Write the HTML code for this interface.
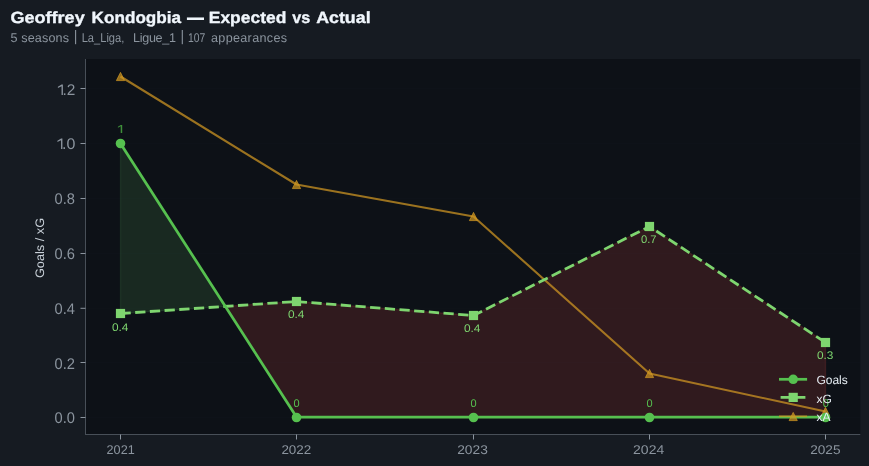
<!DOCTYPE html>
<html><head><meta charset="utf-8"><title>chart</title>
<style>
html,body{margin:0;padding:0;background:#161b22;}
body{width:869px;height:466px;overflow:hidden;}
svg{display:block;font-family:"Liberation Sans",sans-serif;text-rendering:geometricPrecision;will-change:transform;}
</style></head><body>
<svg width="869" height="466" viewBox="0 0 869 466">
<rect width="869" height="466" fill="#161b22"/>
<rect x="85.5" y="59.0" width="774.8" height="375.5" fill="#0d1117"/>
<line x1="85.5" x2="860.3" y1="88.5" y2="88.5" stroke="#1b2029" stroke-width="1" opacity="0.13"/>
<line x1="85.5" x2="860.3" y1="143.5" y2="143.5" stroke="#1b2029" stroke-width="1" opacity="0.13"/>
<line x1="85.5" x2="860.3" y1="198.5" y2="198.5" stroke="#1b2029" stroke-width="1" opacity="0.13"/>
<line x1="85.5" x2="860.3" y1="253.5" y2="253.5" stroke="#1b2029" stroke-width="1" opacity="0.13"/>
<line x1="85.5" x2="860.3" y1="308.3" y2="308.3" stroke="#1b2029" stroke-width="1" opacity="0.13"/>
<line x1="85.5" x2="860.3" y1="362.5" y2="362.5" stroke="#1b2029" stroke-width="1" opacity="0.13"/>
<line x1="85.5" x2="860.3" y1="417.5" y2="417.5" stroke="#1b2029" stroke-width="1" opacity="0.13"/>
<polygon points="120.5,143.5 225.1,306.4 120.5,313.5" fill="#5cb85c" fill-opacity="0.15" stroke="#5cb85c" stroke-opacity="0.13" stroke-width="1.4" stroke-linejoin="round"/>
<polygon points="225.1,306.4 296.5,301.5 473.5,315.5 649.5,226.5 825.5,342.5 825.5,417.5 649.5,417.5 473.5,417.5 296.5,417.5" fill="#f85149" fill-opacity="0.15" stroke="#f85149" stroke-opacity="0.14" stroke-width="1.4" stroke-linejoin="round"/>
<polyline points="120.5,76.5 296.5,184.5 473.5,216.5 649.5,373.5 825.5,411.5" fill="none" stroke="#d29922" stroke-opacity="0.72" stroke-width="2.1" stroke-linejoin="round"/>
<polygon points="116.4,80.6 124.6,80.6 120.5,72.4" fill="#d29922" fill-opacity="0.7" stroke="#d29922" stroke-opacity="0.7" stroke-width="1" stroke-linejoin="miter"/>
<polygon points="292.4,188.6 300.6,188.6 296.5,180.4" fill="#d29922" fill-opacity="0.7" stroke="#d29922" stroke-opacity="0.7" stroke-width="1" stroke-linejoin="miter"/>
<polygon points="469.4,220.6 477.6,220.6 473.5,212.4" fill="#d29922" fill-opacity="0.7" stroke="#d29922" stroke-opacity="0.7" stroke-width="1" stroke-linejoin="miter"/>
<polygon points="645.4,377.6 653.6,377.6 649.5,369.4" fill="#d29922" fill-opacity="0.7" stroke="#d29922" stroke-opacity="0.7" stroke-width="1" stroke-linejoin="miter"/>
<polygon points="821.4,415.6 829.6,415.6 825.5,407.4" fill="#d29922" fill-opacity="0.7" stroke="#d29922" stroke-opacity="0.7" stroke-width="1" stroke-linejoin="miter"/>
<polyline points="120.5,313.5 296.5,301.5 473.5,315.5 649.5,226.5 825.5,342.5" fill="none" stroke="#7ed56f" stroke-width="2.78" stroke-dasharray="10.28 4.44" stroke-linejoin="round"/>
<rect x="115.9" y="308.9" width="9.2" height="9.2" fill="#7ed56f"/>
<rect x="291.9" y="296.9" width="9.2" height="9.2" fill="#7ed56f"/>
<rect x="468.9" y="310.9" width="9.2" height="9.2" fill="#7ed56f"/>
<rect x="644.9" y="221.9" width="9.2" height="9.2" fill="#7ed56f"/>
<rect x="820.9" y="337.9" width="9.2" height="9.2" fill="#7ed56f"/>
<polyline points="120.5,143.5 296.5,417.0 473.5,417.0 649.5,417.0 825.5,417.0" fill="none" stroke="#56c04f" stroke-width="2.75" stroke-linejoin="round"/>
<circle cx="120.5" cy="143.5" r="4.8" fill="#56c04f"/>
<circle cx="296.5" cy="417.5" r="4.8" fill="#56c04f"/>
<circle cx="473.5" cy="417.5" r="4.8" fill="#56c04f"/>
<circle cx="649.5" cy="417.5" r="4.8" fill="#56c04f"/>
<circle cx="825.5" cy="417.5" r="4.8" fill="#56c04f"/>
<line x1="85.5" x2="85.5" y1="59.0" y2="435.0" stroke="#484f58" stroke-width="1"/>
<line x1="85.0" x2="860.3" y1="434.5" y2="434.5" stroke="#484f58" stroke-width="1"/>
<line x1="80.5" x2="85.5" y1="88.5" y2="88.5" stroke="#8b949e" stroke-width="1"/>
<path d="M61.55,84.40 L62.90,84.40 L62.90,95.00 L61.55,95.00 L61.55,86.20 L57.90,88.00 L57.90,86.63 Z" fill="#8b949e"/>
<text x="62.6" y="95" font-size="15.4" fill="#8b949e" textLength="12.84" lengthAdjust="spacingAndGlyphs">.2</text>
<line x1="80.5" x2="85.5" y1="143.5" y2="143.5" stroke="#8b949e" stroke-width="1"/>
<path d="M61.05,138.40 L62.40,138.40 L62.40,149.00 L61.05,149.00 L61.05,140.20 L57.40,142.00 L57.40,140.63 Z" fill="#8b949e"/>
<text x="62.1" y="149" font-size="15.4" fill="#8b949e" textLength="13.34" lengthAdjust="spacingAndGlyphs">.0</text>
<line x1="80.5" x2="85.5" y1="198.5" y2="198.5" stroke="#8b949e" stroke-width="1"/>
<text transform="translate(0,204) scale(1,1.0)" x="74.9" y="0" text-anchor="end" font-size="15.4" fill="#8b949e" textLength="20.4" lengthAdjust="spacingAndGlyphs">0.8</text>
<line x1="80.5" x2="85.5" y1="253.5" y2="253.5" stroke="#8b949e" stroke-width="1"/>
<text transform="translate(0,259) scale(1,1.0)" x="74.9" y="0" text-anchor="end" font-size="15.4" fill="#8b949e" textLength="20.4" lengthAdjust="spacingAndGlyphs">0.6</text>
<line x1="80.5" x2="85.5" y1="308.3" y2="308.3" stroke="#8b949e" stroke-width="1"/>
<text transform="translate(0,314) scale(1,1.0)" x="74.9" y="0" text-anchor="end" font-size="15.4" fill="#8b949e" textLength="20.4" lengthAdjust="spacingAndGlyphs">0.4</text>
<line x1="80.5" x2="85.5" y1="362.5" y2="362.5" stroke="#8b949e" stroke-width="1"/>
<text transform="translate(0,369) scale(1,1.0)" x="74.9" y="0" text-anchor="end" font-size="15.4" fill="#8b949e" textLength="20.4" lengthAdjust="spacingAndGlyphs">0.2</text>
<line x1="80.5" x2="85.5" y1="417.5" y2="417.5" stroke="#8b949e" stroke-width="1"/>
<text transform="translate(0,423) scale(1,1.0)" x="74.9" y="0" text-anchor="end" font-size="15.4" fill="#8b949e" textLength="20.4" lengthAdjust="spacingAndGlyphs">0.0</text>
<line x1="120.5" x2="120.5" y1="434.5" y2="439.5" stroke="#8b949e" stroke-width="1"/>
<text x="106.6" y="454.0" font-size="12.7" fill="#8b949e" textLength="28.1" lengthAdjust="spacingAndGlyphs">2021</text>
<line x1="296.5" x2="296.5" y1="434.5" y2="439.5" stroke="#8b949e" stroke-width="1"/>
<text x="281.4" y="454.0" font-size="12.7" fill="#8b949e" textLength="29.9" lengthAdjust="spacingAndGlyphs">2022</text>
<line x1="473.5" x2="473.5" y1="434.5" y2="439.5" stroke="#8b949e" stroke-width="1"/>
<text x="457.2" y="454.0" font-size="12.7" fill="#8b949e" textLength="30.6" lengthAdjust="spacingAndGlyphs">2023</text>
<line x1="649.5" x2="649.5" y1="434.5" y2="439.5" stroke="#8b949e" stroke-width="1"/>
<text x="633.1" y="454.0" font-size="12.7" fill="#8b949e" textLength="31.1" lengthAdjust="spacingAndGlyphs">2024</text>
<line x1="825.5" x2="825.5" y1="434.5" y2="439.5" stroke="#8b949e" stroke-width="1"/>
<text x="810.2" y="454.0" font-size="12.7" fill="#8b949e" textLength="30.3" lengthAdjust="spacingAndGlyphs">2025</text>
<path d="M120.70,125.00 L122.20,125.00 L122.20,132.90 L120.70,132.90 L120.70,126.34 L117.90,127.69 L117.90,126.66 Z" fill="#3f8f3a"/>
<text x="296.45" y="406.9" text-anchor="middle" font-size="11" fill="#56c04f">0</text>
<text x="473.45" y="406.9" text-anchor="middle" font-size="11" fill="#56c04f">0</text>
<text x="649.45" y="406.9" text-anchor="middle" font-size="11" fill="#56c04f">0</text>
<text x="825.8" y="406.9" text-anchor="middle" font-size="11" fill="#56c04f">0</text>
<text x="111.9" y="330.9" font-size="11" fill="#7ed56f" textLength="16.5" lengthAdjust="spacingAndGlyphs">0.4</text>
<text x="287.9" y="317.9" font-size="11" fill="#7ed56f" textLength="16.5" lengthAdjust="spacingAndGlyphs">0.4</text>
<text x="463.9" y="331.9" font-size="11" fill="#7ed56f" textLength="16.5" lengthAdjust="spacingAndGlyphs">0.4</text>
<text x="640.9" y="242.9" font-size="11" fill="#7ed56f" textLength="15.6" lengthAdjust="spacingAndGlyphs">0.7</text>
<text x="816.9" y="358.9" font-size="11" fill="#7ed56f" textLength="16.4" lengthAdjust="spacingAndGlyphs">0.3</text>
<text transform="translate(43.7,248.0) rotate(-90)" text-anchor="middle" font-size="12.3" fill="#c9d1d9" textLength="60.2" lengthAdjust="spacingAndGlyphs">Goals / xG</text>
<line x1="779" x2="807.1" y1="379.3" y2="379.3" stroke="#56c04f" stroke-width="2.75"/><circle cx="793.2" cy="379.3" r="4.8" fill="#56c04f"/>
<line x1="780.6" x2="790" y1="397.4" y2="397.4" stroke="#7ed56f" stroke-width="2.75"/><line x1="796" x2="805.4" y1="397.4" y2="397.4" stroke="#7ed56f" stroke-width="2.75"/><rect x="788.6" y="392.8" width="9.2" height="9.2" fill="#7ed56f"/>
<line x1="779" x2="807.1" y1="416.3" y2="416.3" stroke="#d29922" stroke-opacity="0.7" stroke-width="1.7"/><polygon points="789.1,420.6 797.3,420.6 793.2,412.4" fill="#d29922" fill-opacity="0.7" stroke="#d29922" stroke-opacity="0.7" stroke-width="1"/>
<text x="816.4" y="383.8" font-size="12" fill="#e6edf3">Goals</text>
<text x="816.4" y="402.7" font-size="12" fill="#e6edf3">xG</text>
<text x="816.4" y="421.2" font-size="12" fill="#e6edf3">xA</text>
<text x="10.4" y="23.0" font-size="16.2" font-weight="bold" fill="#f0f6fc" stroke="#f0f6fc" stroke-width="0.35" stroke-linejoin="round" textLength="74.3" lengthAdjust="spacingAndGlyphs">Geoffrey</text>
<text x="91.6" y="23.0" font-size="16.2" font-weight="bold" fill="#f0f6fc" stroke="#f0f6fc" stroke-width="0.35" stroke-linejoin="round" textLength="89.5" lengthAdjust="spacingAndGlyphs">Kondogbia</text>
<rect x="186.9" y="17.45" width="17.1" height="2.55" fill="#f0f6fc"/>
<text x="208.8" y="23.0" font-size="16.2" font-weight="bold" fill="#f0f6fc" stroke="#f0f6fc" stroke-width="0.35" stroke-linejoin="round" textLength="77.5" lengthAdjust="spacingAndGlyphs">Expected</text>
<text x="292.3" y="23.0" font-size="16.2" font-weight="bold" fill="#f0f6fc" stroke="#f0f6fc" stroke-width="0.35" stroke-linejoin="round" textLength="18.0" lengthAdjust="spacingAndGlyphs">vs</text>
<text x="316.2" y="23.0" font-size="16.2" font-weight="bold" fill="#f0f6fc" stroke="#f0f6fc" stroke-width="0.35" stroke-linejoin="round" textLength="54.4" lengthAdjust="spacingAndGlyphs">Actual</text>
<text x="10.4" y="41.6" font-size="12.6" fill="#8b949e" textLength="58.6" lengthAdjust="spacing">5 seasons</text>
<rect x="75.05" y="30.0" width="1.1" height="14.2" fill="#8b949e"/>
<text x="81.7" y="41.6" font-size="12.6" fill="#8b949e" textLength="42.6" lengthAdjust="spacingAndGlyphs">La_Liga,</text>
<text x="133.0" y="41.6" font-size="12.6" fill="#8b949e" textLength="43.0" lengthAdjust="spacing">Ligue_1</text>
<rect x="181.75" y="30.0" width="1.1" height="14.2" fill="#8b949e"/>
<text x="188.0" y="41.6" font-size="12.6" fill="#8b949e" textLength="17.3" lengthAdjust="spacingAndGlyphs">107</text>
<text x="211.0" y="41.6" font-size="12.6" fill="#8b949e" textLength="76.0" lengthAdjust="spacing">appearances</text>
</svg></body></html>
